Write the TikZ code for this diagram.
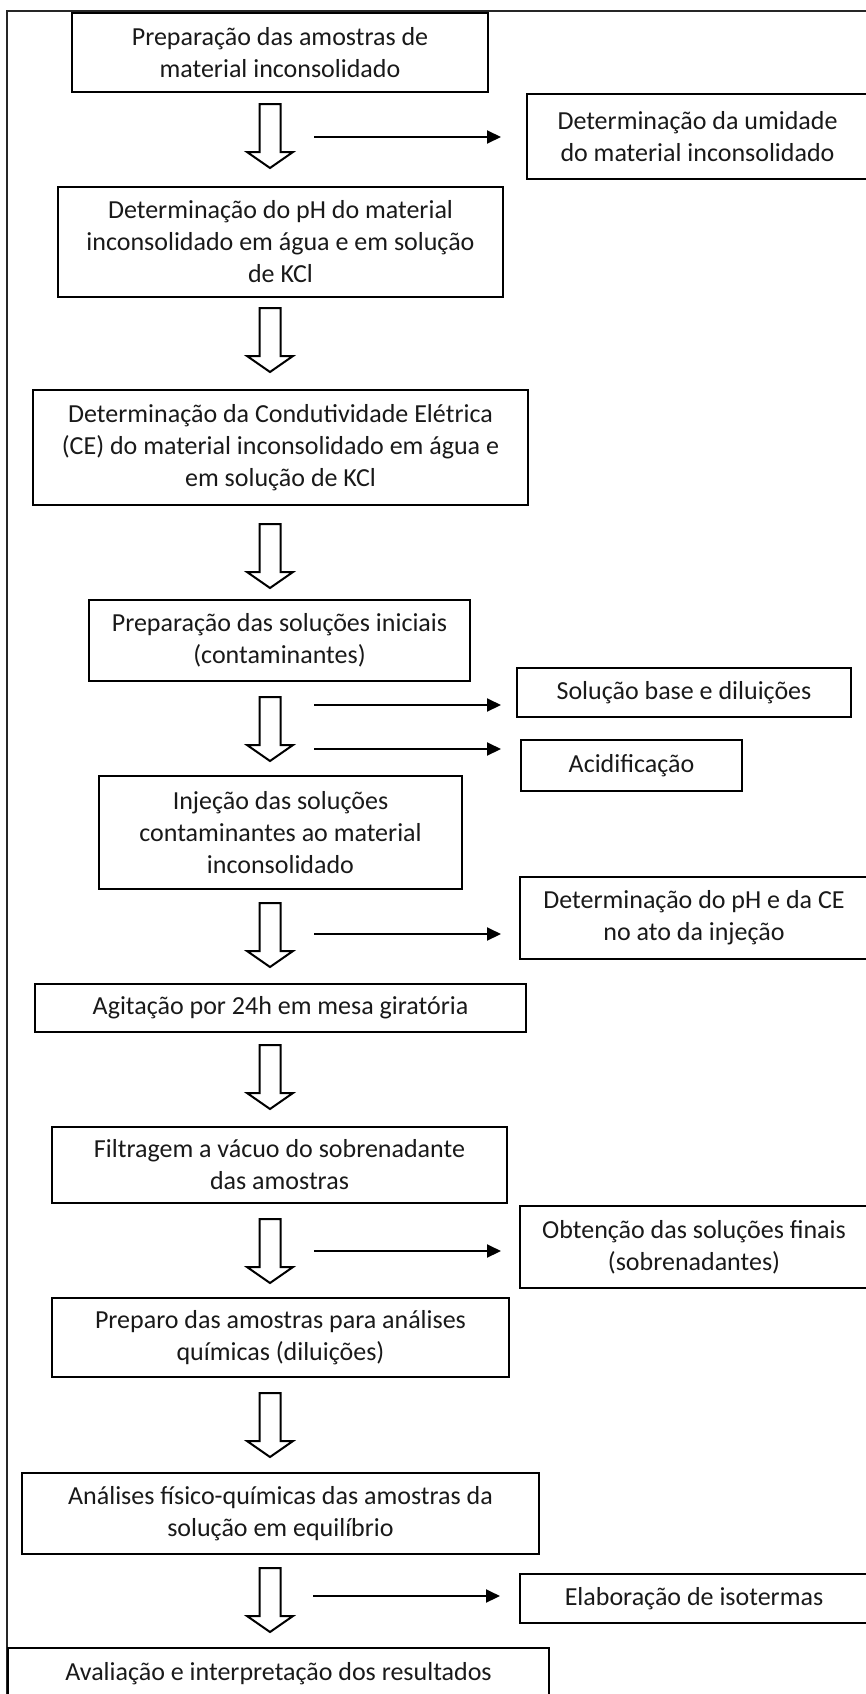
\documentclass[tikz,border=0pt]{standalone}
\usepackage{fontspec}
\setmainfont{Carlito}
\usetikzlibrary{arrows.meta}
\begin{document}
\begin{tikzpicture}[x=1pt,y=-1pt,
  box/.style={draw=black, line width=2.4pt, align=center, inner sep=0pt,
    text=black!90, font=\fontsize{26}{32}\selectfont},
  rarrow/.style={line width=2pt, -{Triangle[length=14pt,width=13pt]}},
  harrow/.pic={\draw[line width=2pt, line join=miter] (-10.5,0) -- (10.5,0) -- (10.5,48) -- (23,48) -- (0,64) -- (-23,48) -- (-10.5,48) -- cycle;}
]
\useasboundingbox (0,0) rectangle (865,1694);
% frame
\draw[line width=1.5pt, black!85] (7,1700) -- (7,11) -- (870,11);

% main column
\node[box, minimum width=416pt, minimum height=79pt] (b1) at (280,52.5) {Preparação das amostras de\\material inconsolidado};
\node[box, minimum width=445pt, minimum height=110pt] (ph) at (280.5,242) {Determinação do pH do material\\inconsolidado em água e em solução\\de KCl};
\node[box, minimum width=495pt, minimum height=115pt] (ce) at (280.5,447.5) {Determinação da Condutividade Elétrica\\(CE) do material inconsolidado em água e\\em solução de KCl};
\node[box, minimum width=381pt, minimum height=81pt] (ps) at (279.5,640.5) {Preparação das soluções iniciais\\(contaminantes)};
\node[box, minimum width=363pt, minimum height=113pt] (inj) at (280.5,832.5) {Injeção das soluções\\contaminantes ao material\\inconsolidado};
\node[box, minimum width=491pt, minimum height=48pt] (ag) at (280.5,1008) {Agitação por  24h em mesa giratória};
\node[box, minimum width=455pt, minimum height=76pt] (fil) at (279.5,1165) {Filtragem a vácuo do sobrenadante\\das amostras};
\node[box, minimum width=457pt, minimum height=79pt] (pre) at (280.5,1337.5) {Preparo das amostras para análises\\químicas (diluições)};
\node[box, minimum width=517pt, minimum height=81pt] (an) at (280.5,1513.5) {Análises físico-químicas das amostras da\\solução em equilíbrio};
\node[box, minimum width=541pt, minimum height=52pt] (av) at (278.5,1674) {Avaliação e interpretação dos resultados};

% side boxes
\node[box, minimum width=341pt, minimum height=85pt] (um) at (697.5,136.5) {Determinação da umidade\\do material inconsolidado};
\node[box, minimum width=334pt, minimum height=49pt] (sb) at (684,692.5) {Solução base e diluições};
\node[box, minimum width=221pt, minimum height=51pt] (ac) at (631.5,765.5) {Acidificação};
\node[box, minimum width=348pt, minimum height=82pt] (dpc) at (694,918) {Determinação do pH e da CE\\no ato da injeção};
\node[box, minimum width=348pt, minimum height=82pt] (ob) at (694,1247) {Obtenção das soluções finais\\(sobrenadantes)};
\node[box, minimum width=348pt, minimum height=49pt] (el) at (694,1598.5) {Elaboração de isotermas};

% hollow arrows
\pic at (270,104) {harrow};
\pic at (270,308) {harrow};
\pic at (270,524) {harrow};
\pic at (270,697) {harrow};
\pic at (270,903) {harrow};
\pic at (270,1045) {harrow};
\pic at (270,1219) {harrow};
\pic at (270,1393) {harrow};
\pic at (270,1568) {harrow};

% side arrows
\coordinate (r1s) at (314,137);  \coordinate (r1e) at (501,137);
\coordinate (r2s) at (314,705);  \coordinate (r2e) at (501,705);
\coordinate (r3s) at (314,749);  \coordinate (r3e) at (501,749);
\coordinate (r4s) at (314,934);  \coordinate (r4e) at (501,934);
\coordinate (r5s) at (314,1251); \coordinate (r5e) at (501,1251);
\coordinate (r6s) at (313,1596); \coordinate (r6e) at (500,1596);
\draw[rarrow] (r1s) -- (r1e);
\draw[rarrow] (r2s) -- (r2e);
\draw[rarrow] (r3s) -- (r3e);
\draw[rarrow] (r4s) -- (r4e);
\draw[rarrow] (r5s) -- (r5e);
\draw[rarrow] (r6s) -- (r6e);
\end{tikzpicture}
\end{document}
